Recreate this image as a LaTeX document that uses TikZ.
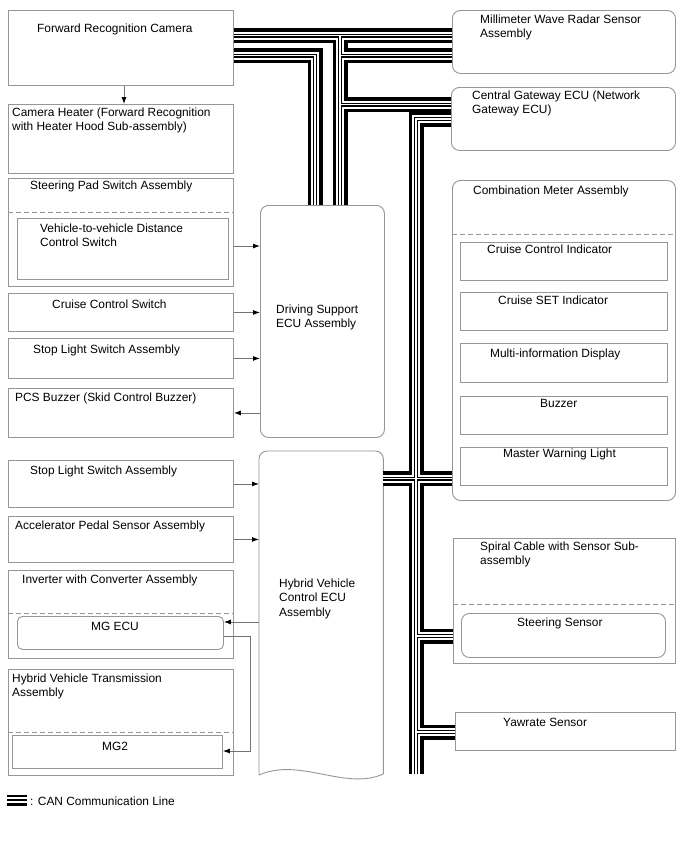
\documentclass[tikz,border=0pt]{standalone}
\usepackage{fontspec}
\setmainfont{Liberation Sans}
\usetikzlibrary{arrows.meta}
\definecolor{bordergray}{RGB}{150,150,150}
\definecolor{linegray}{RGB}{115,115,115}
\begin{document}
\begin{tikzpicture}[x=1pt,y=-1pt,
  box/.style={draw=bordergray, line width=0.9pt, inner sep=0pt, anchor=north west},
  rbox/.style={box, rounded corners=8pt},
  lbl/.style={inner sep=0pt, anchor=north west, align=left, font=\fontsize{11.9}{14.5}\selectfont},
  clbl/.style={lbl, anchor=north, align=center},
  sep/.style={draw=bordergray, line width=0.9pt, dash pattern=on 5pt off 3pt},
  arr/.style={draw=linegray, line width=0.9pt, -{Latex[length=7pt,width=5pt,color=black]}},
  can/.style={draw=black, line width=15pt,
     postaction={draw=white, line width=8pt},
     postaction={draw=black, line width=4pt},
     postaction={draw=white, line width=1.5pt}}
]
\fill[white] (0,0) rectangle (688,852);
\useasboundingbox (0,0) rectangle (688,852);

% ---------- left column ----------
\node[box, minimum width=225, minimum height=75] (cam) at (8,10) {};
\node[lbl] (camT) at (37,23.5) {Forward Recognition Camera};

\node[box, minimum width=225, minimum height=69] (heater) at (8,104) {};
\node[lbl] (heaterT) at (12,107.5) {Camera Heater (Forward Recognition\\with Heater Hood Sub-assembly)};

\node[box, minimum width=225, minimum height=108] (sp) at (8,178) {};
\node[lbl] (spT) at (30,180.5) {Steering Pad Switch Assembly};
\draw[sep] (sp.west |- 0,212) -- (sp.east |- 0,212);
\node[box, minimum width=211, minimum height=61] (spin) at (17,218) {};
\node[lbl] (spinT) at (40,223.5) {Vehicle-to-vehicle Distance\\Control Switch};

\node[box, minimum width=225, minimum height=38] (cruise) at (8,293) {};
\node[lbl] (cruiseT) at (52,299.5) {Cruise Control Switch};

\node[box, minimum width=225, minimum height=40] (stopa) at (8,338) {};
\node[lbl] (stopaT) at (33,344.5) {Stop Light Switch Assembly};

\node[box, minimum width=225, minimum height=49] (pcs) at (8,388) {};
\node[lbl] (pcsT) at (15,392.5) {PCS Buzzer (Skid Control Buzzer)};

\node[rbox, minimum width=124, minimum height=232] (ds) at (260,205) {};
\node[lbl] (dsT) at (276,304.5) {Driving Support\\ECU Assembly};

\node[box, minimum width=225, minimum height=47] (stopb) at (8,460) {};
\node[lbl] (stopbT) at (30,465.5) {Stop Light Switch Assembly};

\node[box, minimum width=225, minimum height=46] (accel) at (8,516) {};
\node[lbl] (accelT) at (15,520.5) {Accelerator Pedal Sensor Assembly};

\node[box, minimum width=225, minimum height=88] (inv) at (8,570) {};
\node[lbl] (invT) at (22,574.5) {Inverter with Converter Assembly};
\draw[sep] (inv.west |- 0,613) -- (inv.east |- 0,613);
\node[box, rounded corners=5pt, minimum width=206, minimum height=33] (mgecu) at (17,616) {};
\node[clbl] (mgecuT) at (115,621.5) {MG ECU};

\node[box, minimum width=225, minimum height=106] (trans) at (8,669) {};
\node[lbl] (transT) at (12,673.5) {Hybrid Vehicle Transmission\\Assembly};
\draw[sep] (trans.west |- 0,732) -- (trans.east |- 0,732);
\node[box, minimum width=210, minimum height=33] (mgtwo) at (12,735) {};
\node[clbl] (mgtwoT) at (115,741.5) {MG2};

% Hybrid Vehicle Control ECU (document shape)
\node[inner sep=0pt, minimum width=124, minimum height=324, anchor=north west] (hv) at (259,451) {};
\draw[draw=bordergray, line width=0.9pt, rounded corners=8pt]
  (hv.west |- 0,775) -- (hv.north west) -- (hv.north east) -- (hv.east |- 0,774);
\draw[draw=bordergray, line width=0.9pt]
  (hv.east |- 0,774) .. controls (345,791) and (300,757) .. (hv.west |- 0,775);
\node[lbl] (hvT) at (279,578.5) {Hybrid Vehicle\\Control ECU\\Assembly};

% ---------- right column ----------
\node[rbox, minimum width=223, minimum height=63] (radar) at (452,10) {};
\node[lbl] (radarT) at (480,14.5) {Millimeter Wave Radar Sensor\\Assembly};

\node[rbox, minimum width=224, minimum height=63] (gw) at (451,87) {};
\node[lbl] (gwT) at (472,90.5) {Central Gateway ECU (Network\\Gateway ECU)};

\node[rbox, minimum width=223, minimum height=320] (meter) at (452,180) {};
\node[lbl] (meterT) at (473,185.5) {Combination Meter Assembly};
\draw[sep] (meter.west |- 0,234) -- (meter.east |- 0,234);
\node[box, minimum width=207, minimum height=38] (ci) at (460,242) {};
\node[lbl] (ciT) at (487,244.5) {Cruise Control Indicator};
\node[box, minimum width=207, minimum height=38] (si) at (460,292) {};
\node[lbl] (siT) at (498,295.5) {Cruise SET Indicator};
\node[box, minimum width=207, minimum height=39] (mid) at (460,343) {};
\node[lbl] (midT) at (490,348.5) {Multi-information Display};
\node[box, minimum width=207, minimum height=38] (bz) at (460,396) {};
\node[lbl] (bzT) at (540,399.5) {Buzzer};
\node[box, minimum width=207, minimum height=38] (mwl) at (460,447) {};
\node[lbl] (mwlT) at (503,448.5) {Master Warning Light};

\node[box, minimum width=222, minimum height=125] (spiral) at (453,538) {};
\node[lbl] (spiralT) at (480,541.5) {Spiral Cable with Sensor Sub-\\assembly};
\draw[sep] (spiral.west |- 0,604) -- (spiral.east |- 0,604);
\node[box, rounded corners=8pt, minimum width=204, minimum height=44] (steer) at (461,613) {};
\node[lbl] (steerT) at (517,617.5) {Steering Sensor};

\node[box, minimum width=220, minimum height=38] (yaw) at (455,712) {};
\node[lbl] (yawT) at (503,717.5) {Yawrate Sensor};

% ---------- arrows ----------
\draw[arr] (cam.south -| 124,0) -- (heater.north -| 124,0);
\draw[arr] (sp.east |- 0,246) -- (ds.west |- 0,246);
\draw[arr] (cruise.east) -- (ds.west |- cruise.east);
\draw[arr] (stopa.east) -- (ds.west |- stopa.east);
\draw[arr] (ds.west |- pcs.east) -- (pcs.east);
\draw[arr] (stopb.east) -- (hv.west |- stopb.east);
\draw[arr] (accel.east) -- (hv.west |- accel.east);
\draw[arr] (hv.west |- 0,622) -- (mgecu.east |- 0,622);
\draw[arr] (mgecu.east |- 0,636) -- (250,636) -- (250,751) -- (mgtwo.east |- 0,751);

% ---------- CAN communication lines ----------
\draw[can]
  (cam.east |- 0,35.5) -- (radar.west |- 0,35.5)
  (340,35.5) -- (ds.north -| 340,0)
  (cam.east |- 0,55.5) -- (315,55.5) -- (ds.north -| 315,0)
  (radar.west |- 0,55.5) -- (340,55.5)
  (gw.west |- 0,104.5) -- (340,104.5)
  (gw.west |- 0,119) -- (416,119) -- (416,774)
  (hv.east |- 0,478.5) -- (meter.west |- 0,478.5)
  (416,636) -- (spiral.west |- 0,636)
  (416,732) -- (yaw.west |- 0,732);

% ---------- legend ----------
\draw[black, line width=2.4pt] (7,796) -- (27,796);
\draw[black, line width=1.4pt] (7,800) -- (27,800);
\draw[black, line width=2.8pt] (7,804.5) -- (27,804.5);
\node[lbl, anchor=west] (legendT) at (30,801) {: CAN Communication Line};
\end{tikzpicture}
\end{document}
